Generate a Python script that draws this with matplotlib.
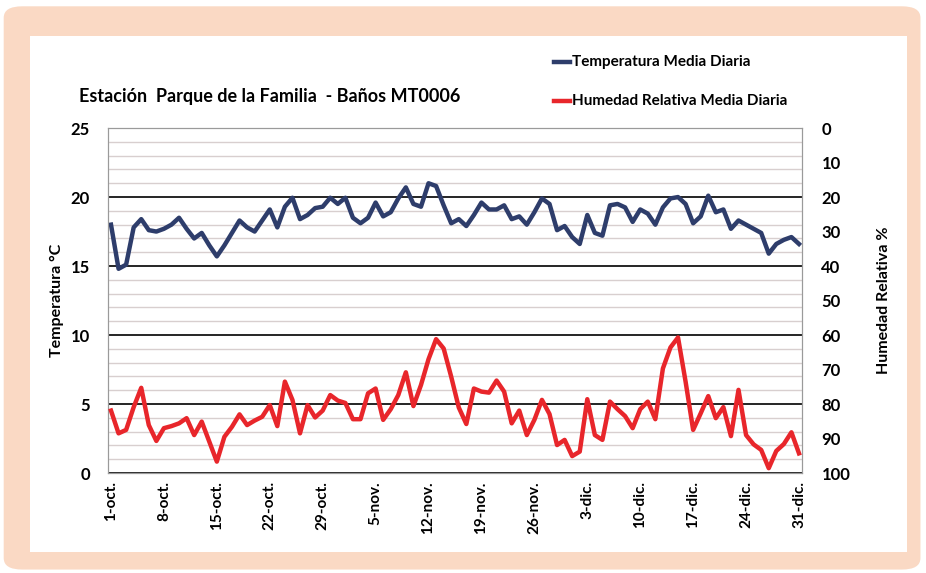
import matplotlib.pyplot as plt
from matplotlib.patches import FancyBboxPatch, Rectangle
from matplotlib.ticker import MultipleLocator

plt.rcParams['font.family'] = ['Lato', 'DejaVu Sans']

# daily mean temperature (°C), 1-oct .. 31-dic
temperatura = [18.0, 14.8, 15.1, 17.8, 18.4, 17.6, 17.5, 17.7, 18.0, 18.5,
               17.7, 17.0, 17.4, 16.5, 15.7, 16.5, 17.4, 18.3, 17.8, 17.5,
               18.3, 19.1, 17.8, 19.3, 19.95, 18.4, 18.7, 19.2, 19.3, 19.95,
               19.5, 19.95, 18.5, 18.1, 18.5, 19.6, 18.6, 18.9, 19.9, 20.7,
               19.5, 19.3, 21.0, 20.8, 19.4, 18.1, 18.4, 17.9, 18.7, 19.6,
               19.1, 19.1, 19.4, 18.4, 18.6, 18.0, 18.9, 19.9, 19.5, 17.6,
               17.9, 17.1, 16.6, 18.7, 17.4, 17.2, 19.4, 19.5, 19.25, 18.2,
               19.1, 18.8, 18.0, 19.25, 19.9, 20.0, 19.5, 18.1, 18.6, 20.1,
               18.9, 19.1, 17.7, 18.3, 18.0, 17.7, 17.4, 15.9, 16.6, 16.9,
               17.1, 16.6]

# daily mean relative humidity (%)
humedad = [81.9, 88.5, 87.5, 80.9, 75.3, 86.1, 90.7, 87.0, 86.4, 85.6,
           84.1, 89.0, 85.1, 90.9, 96.7, 89.5, 86.6, 83.0, 86.1, 84.8,
           83.7, 80.3, 86.4, 73.5, 78.8, 88.5, 80.3, 83.9, 81.9, 77.4,
           79.0, 79.7, 84.4, 84.4, 76.9, 75.5, 84.6, 81.5, 77.4, 70.8,
           80.6, 74.5, 67.0, 61.2, 63.9, 72.1, 81.0, 85.8, 75.5, 76.4,
           76.7, 73.2, 76.4, 85.6, 81.9, 89.0, 84.6, 78.8, 82.9, 91.9,
           90.4, 95.1, 93.8, 78.6, 89.0, 90.4, 79.3, 81.5, 83.5, 87.0,
           81.5, 79.3, 84.4, 69.7, 63.6, 60.7, 73.5, 87.5, 82.7, 77.7,
           84.1, 80.9, 89.3, 75.9, 89.0, 91.7, 93.3, 98.6, 93.6, 91.6,
           88.2, 94.3]

fechas = ['1-oct.', '8-oct.', '15-oct.', '22-oct.', '29-oct.', '5-nov.',
          '12-nov.', '19-nov.', '26-nov.', '3-dic.', '10-dic.', '17-dic.',
          '24-dic.', '31-dic.']

dias = list(range(len(temperatura)))

fig = plt.figure(figsize=(9.26, 5.73), dpi=100)

# peach frame with white panel
fig.patches.append(FancyBboxPatch((0.004, 0.006), 0.99, 0.983,
                                  boxstyle='round,pad=0,rounding_size=0.02',
                                  transform=fig.transFigure,
                                  facecolor='#fad9c4', edgecolor='none', zorder=-2))
fig.patches.append(Rectangle((0.032, 0.037), 0.948, 0.9,
                             transform=fig.transFigure,
                             facecolor='white', edgecolor='none', zorder=-1))

ax = fig.add_axes([0.1166, 0.1745, 0.7495, 0.602])
ax.set_facecolor('none')
ax.plot(dias, temperatura, color='#2e3d6b', lw=3.2, zorder=4)
ax.set_xlim(-0.4, 91.4)
ax.set_ylim(0, 25)
ax.yaxis.set_major_locator(MultipleLocator(5))
ax.yaxis.set_minor_locator(MultipleLocator(1))
ax.grid(which='minor', axis='y', color='#d8cfcf', lw=1)
ax.grid(which='major', axis='y', color='black', lw=1.2)
ax.set_axisbelow(True)
ax.set_xticks(dias[::7])
ax.set_xticklabels(fechas, rotation=90, fontsize=11, fontweight='bold')
ax.tick_params(axis='x', length=0, pad=6)
ax.tick_params(axis='y', which='both', length=0, pad=13)
for lab in ax.get_yticklabels():
    lab.set_fontweight('bold')
    lab.set_fontsize(12)
for s in ax.spines.values():
    s.set_color('#9a9a9a')
ax.set_ylabel('Temperatura °C', fontsize=11.5, fontweight='bold')
ax.yaxis.set_label_coords(-0.064, 0.5)

ax2 = ax.twinx()
ax2.plot(dias, humedad, color='#e8262b', lw=3.2, zorder=4)
ax2.set_ylim(100, 0)
ax2.yaxis.set_major_locator(MultipleLocator(10))
ax2.tick_params(axis='y', length=0, pad=14)
for lab in ax2.get_yticklabels():
    lab.set_fontweight('bold')
    lab.set_fontsize(12)
for s in ax2.spines.values():
    s.set_color('#9a9a9a')
ax2.set_ylabel('Humedad Relativa %', fontsize=11.5, fontweight='bold')
ax2.yaxis.set_label_coords(1.108, 0.5)

fig.text(0.085, 0.832, 'Estación  Parque de la Familia  - Baños MT0006',
         fontsize=13, fontweight='bold', va='center')

# legend
fig.lines.append(plt.Line2D([0.598, 0.616], [0.892, 0.892], color='#2e3d6b',
                            lw=3.2, transform=fig.transFigure, zorder=5))
fig.text(0.618, 0.892, 'Temperatura Media Diaria', fontsize=11,
         fontweight='bold', va='center', zorder=5)
fig.lines.append(plt.Line2D([0.598, 0.616], [0.824, 0.824], color='#e8262b',
                            lw=3.2, transform=fig.transFigure, zorder=5))
fig.text(0.618, 0.824, 'Humedad Relativa Media Diaria', fontsize=11,
         fontweight='bold', va='center', zorder=5)

fig.savefig('out.png', dpi=100)
